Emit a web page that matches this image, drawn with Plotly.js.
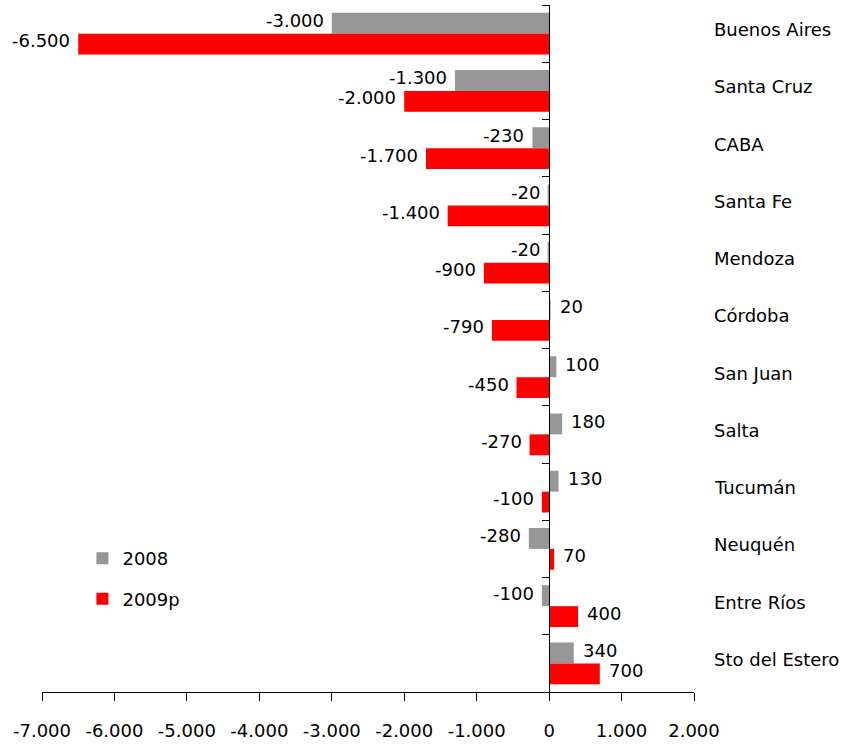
<!DOCTYPE html>
<html>
<head>
<meta charset="utf-8">
<script src="https://cdn.plot.ly/plotly-3.0.1.min.js"></script>
<style>html,body{margin:0;padding:0;background:#fff;}#chart{width:847px;height:744px;}</style>
</head>
<body>
<div id="chart"></div>
<script>
const categories = ["Buenos Aires","Santa Cruz","CABA","Santa Fe","Mendoza","Córdoba","San Juan","Salta","Tucumán","Neuquén","Entre Ríos","Sto del Estero"];
const values2008 = [-3000,-1300,-230,-20,-20,20,100,180,130,-280,-100,340];
const values2009p = [-6500,-2000,-1700,-1400,-900,-790,-450,-270,-100,70,400,700];
const seriesNames = ["2008","2009p"];
const xTickVals = [-7000,-6000,-5000,-4000,-3000,-2000,-1000,0,1000,2000];

const FONT = "DejaVu Sans";
const FS = 18;
const GRAY = "#969696";
const RED = "#ff0000";

function fmt(v){
  const s = Math.abs(v).toString().replace(/\B(?=(\d{3})+(?!\d))/g, ".");
  return (v < 0 ? "-" : "") + s;
}

const traces = [
  {type:"bar", orientation:"h", name:seriesNames[0], x:values2008, y:categories,
   marker:{color:GRAY}, legendgroup:"a", hoverinfo:"skip"},
  {type:"bar", orientation:"h", name:seriesNames[1], x:values2009p, y:categories,
   marker:{color:RED}, legendgroup:"b", hoverinfo:"skip"},
  {type:"scatter", mode:"none", x:categories.map(()=>0), y:categories, yaxis:"y2",
   showlegend:false, hoverinfo:"skip"}
];

const annotations = [];
[[values2008, 13], [values2009p, -7]].forEach(([vals, ys]) => {
  vals.forEach((v, i) => {
    annotations.push({
      x: v, y: categories[i], xref:"x", yref:"y",
      text: fmt(v), showarrow:false,
      xanchor: v < 0 ? "right" : "left",
      xshift: v < 0 ? -6 : 7,
      yshift: ys,
      font:{family:FONT, size:FS, color:"#000"}
    });
  });
});
categories.forEach((c) => {
  annotations.push({
    x: 1, y: c, xref:"paper", yref:"y", text: c, showarrow:false,
    xanchor:"left", xshift:18, yshift:4,
    font:{family:FONT, size:FS, color:"#000"}
  });
});

const nCat = categories.length;
const layout = {
  width:847, height:744,
  margin:{l:42, r:153, t:5, b:52},
  paper_bgcolor:"#fff", plot_bgcolor:"#fff",
  font:{family:FONT, size:FS, color:"#000"},
  barmode:"group", bargap:0.27, bargroupgap:0,
  showlegend:true,
  legend:{x:0.062, y:0.221, xanchor:"left", yanchor:"top", traceorder:"grouped",
          tracegroupgap:14, font:{family:FONT, size:FS, color:"#000"}, bgcolor:"rgba(0,0,0,0)"},
  xaxis:{range:[-7000,2000], tickvals:xTickVals, ticktext:xTickVals.map(fmt),
         showgrid:false, zeroline:false, showline:true, linecolor:"#000", linewidth:1,
         ticks:"outside", ticklen:8, tickcolor:"#000", ticklabelstandoff:14,
         tickfont:{family:FONT, size:FS, color:"#000"}, fixedrange:true},
  yaxis:{type:"category", range:[nCat-0.5, -0.5], autorange:false, side:"right", showgrid:false, zeroline:false,
         showline:false, ticks:"", showticklabels:false},
  yaxis2:{type:"category", overlaying:"y", matches:"y", anchor:"free", position:7000/9000, side:"left",
          showline:true, linecolor:"#000", linewidth:1, ticks:"outside", ticklen:7, tickcolor:"#000",
          tickson:"boundaries", showticklabels:false, showgrid:false, zeroline:false},
  annotations: annotations
};

Plotly.newPlot("chart", traces, layout, {displayModeBar:false, staticPlot:true});
</script>
</body>
</html>
